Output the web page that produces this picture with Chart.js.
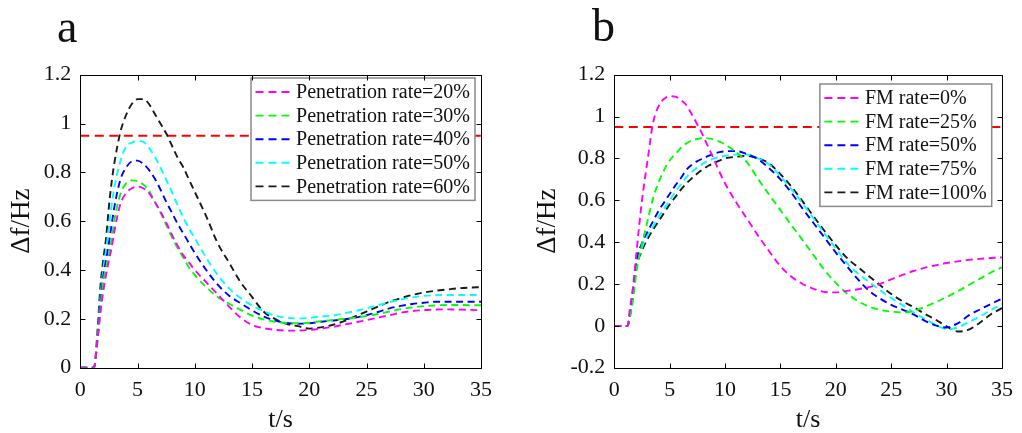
<!DOCTYPE html>
<html><head><meta charset="utf-8">
<script src="https://cdn.jsdelivr.net/npm/chart.js@4.4.0/dist/chart.umd.min.js"></script>
<style>
html,body{margin:0;padding:0;background:#fff;}
#wrap{position:relative;width:1022px;height:433px;overflow:hidden;background:#fff;}
.panel{position:absolute;top:0;width:511px;height:433px;}
.lbl{position:absolute;font-family:"Liberation Serif","Times New Roman",serif;font-size:46px;line-height:1;color:#111;}
</style></head><body>
<div id="wrap">
<div class="panel" style="left:0"><canvas id="cA" width="511" height="433"></canvas></div>
<div class="panel" style="left:511px"><canvas id="cB" width="511" height="433"></canvas></div>
<div class="lbl" style="left:57px;top:4px">a</div>
<div class="lbl" style="left:592px;top:3px">b</div>
</div>
<script>
// ---------- DATA ----------
const threshold = 0.95;
const tA = [0,1.2,1.5,1.75,2,2.25,2.5,2.75,3,3.5,4,4.5,5,5.5,6,6.5,7,7.5,8,8.5,9,9.5,10,
  11,12,13,14,15,16,17,18,19,20,21,22,23,24,25,26,27,28,29,30,31,32,33,34,35];
const namesA = ["Penetration rate=20%","Penetration rate=30%","Penetration rate=40%","Penetration rate=50%","Penetration rate=60%"];
const pen20 = [0,0,0.11,0.22,0.31,0.38,0.44,0.495,0.565,0.67,0.715,0.735,0.742,0.735,0.715,0.68,0.64,0.595,0.545,0.50,0.46,0.43,0.40,
  0.35,0.30,0.25,0.205,0.175,0.162,0.155,0.152,0.152,0.155,0.16,0.167,0.176,0.185,0.195,0.205,0.215,0.225,0.232,0.236,0.238,0.239,0.238,0.237,0.235];
const pen30 = [0,0,0.11,0.24,0.35,0.41,0.465,0.53,0.61,0.71,0.755,0.767,0.765,0.75,0.725,0.68,0.635,0.585,0.535,0.49,0.45,0.41,0.38,
  0.33,0.29,0.262,0.237,0.213,0.198,0.188,0.183,0.182,0.184,0.19,0.195,0.2,0.205,0.212,0.22,0.23,0.24,0.247,0.252,0.255,0.257,0.257,0.256,0.256];
const pen40 = [0,0,0.12,0.26,0.37,0.44,0.51,0.59,0.665,0.77,0.82,0.845,0.848,0.835,0.81,0.775,0.73,0.68,0.635,0.59,0.55,0.51,0.47,
  0.40,0.34,0.295,0.264,0.235,0.21,0.193,0.183,0.18,0.182,0.188,0.193,0.198,0.205,0.215,0.228,0.243,0.253,0.261,0.266,0.27,0.27,0.27,0.27,0.27];
const pen50 = [0,0,0.13,0.28,0.40,0.48,0.575,0.67,0.745,0.845,0.905,0.922,0.928,0.925,0.90,0.865,0.82,0.77,0.72,0.665,0.615,0.57,0.53,
  0.45,0.38,0.325,0.285,0.255,0.232,0.213,0.205,0.202,0.204,0.21,0.213,0.222,0.232,0.243,0.256,0.268,0.279,0.288,0.294,0.297,0.298,0.298,0.298,0.298];
const pen60 = [0,0,0.15,0.33,0.44,0.53,0.66,0.765,0.845,0.965,1.035,1.08,1.10,1.10,1.08,1.04,1.00,0.96,0.91,0.86,0.82,0.77,0.72,
  0.62,0.51,0.43,0.35,0.29,0.23,0.20,0.18,0.17,0.16,0.165,0.175,0.19,0.21,0.23,0.25,0.27,0.285,0.298,0.308,0.315,0.32,0.325,0.328,0.33];

const tB = [0,1.2,1.4,1.6,1.8,2,2.5,3,3.5,4,4.5,5,5.5,6,6.5,7,7.5,8,8.5,9,9.5,10,
  11,12,13,14,15,16,17,18,19,20,21,22,23,24,25,26,27,28,29,30,31,32,33,34,35];
const namesB = ["FM rate=0%","FM rate=25%","FM rate=50%","FM rate=75%","FM rate=100%"];
const fm0 = [0,0,0.08,0.15,0.24,0.35,0.60,0.79,0.97,1.05,1.085,1.097,1.095,1.08,1.055,1.01,0.962,0.91,0.853,0.795,0.735,0.68,
  0.59,0.51,0.43,0.355,0.285,0.235,0.2,0.177,0.162,0.16,0.167,0.175,0.185,0.2,0.222,0.243,0.262,0.277,0.289,0.3,0.308,0.315,0.32,0.324,0.327];
const fm25 = [0,0,0.04,0.09,0.17,0.26,0.39,0.50,0.61,0.685,0.745,0.79,0.82,0.85,0.872,0.885,0.893,0.897,0.896,0.89,0.88,0.867,
  0.83,0.78,0.70,0.625,0.553,0.48,0.41,0.337,0.265,0.205,0.155,0.118,0.092,0.076,0.068,0.064,0.07,0.09,0.113,0.138,0.165,0.195,0.225,0.255,0.28];
const fm50 = [0,0,0.05,0.13,0.22,0.31,0.395,0.45,0.50,0.55,0.59,0.63,0.67,0.705,0.745,0.77,0.787,0.80,0.812,0.822,0.83,0.834,
  0.835,0.82,0.796,0.752,0.70,0.635,0.56,0.49,0.42,0.35,0.285,0.222,0.168,0.13,0.1,0.078,0.055,0.025,0.002,-0.008,0.012,0.05,0.078,0.105,0.13];
const fm75 = [0,0,0.05,0.13,0.21,0.29,0.375,0.43,0.475,0.52,0.56,0.60,0.64,0.675,0.71,0.735,0.757,0.775,0.79,0.80,0.808,0.812,
  0.818,0.818,0.80,0.77,0.715,0.652,0.585,0.512,0.44,0.37,0.30,0.25,0.21,0.17,0.133,0.1,0.065,0.035,0.005,-0.015,-0.008,0.018,0.045,0.075,0.105];
const fm100 = [0,0,0.04,0.12,0.20,0.28,0.36,0.415,0.46,0.50,0.54,0.58,0.615,0.65,0.68,0.705,0.728,0.748,0.765,0.778,0.79,0.80,
  0.808,0.812,0.80,0.775,0.725,0.665,0.595,0.522,0.452,0.385,0.325,0.28,0.237,0.194,0.152,0.118,0.09,0.058,0.03,-0.002,-0.027,-0.018,0.015,0.055,0.085];

const seriesColors = ["#ff00ff","#00ff00","#0000ff","#00ffff","#1a1a1a"];
// ---------- END DATA ----------

const FONT = '"Liberation Serif", "Times New Roman", serif';

const framePlugin = {
  id: 'frame',
  afterDraw(chart) {
    const {ctx, chartArea: a, scales: {x, y}} = chart;
    const L = Math.round(a.left) + 0.5, R = Math.round(a.right) + 0.5;
    const T = Math.round(a.top) + 0.5, B = Math.round(a.bottom) + 0.5;
    ctx.save();
    ctx.strokeStyle = '#000'; ctx.lineWidth = 1;
    ctx.beginPath();
    ctx.rect(L, T, R - L, B - T);
    const tl = 5;
    y.ticks.forEach(t => {
      const py = Math.round(y.getPixelForValue(t.value)) + 0.5;
      ctx.moveTo(L, py); ctx.lineTo(L + tl, py);
      ctx.moveTo(R, py); ctx.lineTo(R - tl, py);
    });
    x.ticks.forEach(t => {
      const px = Math.round(x.getPixelForValue(t.value)) + 0.5;
      ctx.moveTo(px, B); ctx.lineTo(px, B - tl);
      ctx.moveTo(px, T); ctx.lineTo(px, T + tl);
    });
    ctx.stroke();
    ctx.restore();
  }
};

const boxLegend = {
  id: 'boxLegend',
  afterDatasetsDraw(chart, args, opts) {
    const {ctx, chartArea: a} = chart;
    const items = chart.data.datasets.filter(d => !d.hideInLegend);
    ctx.save();
    ctx.font = '20px ' + FONT;
    const tw = Math.max(...items.map(d => ctx.measureText(d.label).width));
    const padL = 4.5, sample = 37, gap = 3.5, padR = 5;
    const w = padL + sample + gap + tw + padR;
    const rowH = 23.6, padT = 14;
    const h = padT * 2 + rowH * (items.length - 1);
    const right = a.right - opts.marginRight;
    const left = right - w;
    const top = a.top + opts.marginTop;
    ctx.fillStyle = '#fff';
    ctx.fillRect(left, top, w, h);
    ctx.strokeStyle = '#8a8a8a'; ctx.lineWidth = 1.5;
    ctx.strokeRect(left, top, w, h);
    items.forEach((d, i) => {
      const cy = top + padT + i * rowH;
      ctx.strokeStyle = d.borderColor; ctx.lineWidth = 1.9;
      ctx.setLineDash([8, 5]);
      ctx.beginPath(); ctx.moveTo(left + padL, cy); ctx.lineTo(left + padL + sample, cy); ctx.stroke();
      ctx.setLineDash([]);
      ctx.fillStyle = '#111'; ctx.textBaseline = 'middle'; ctx.textAlign = 'left';
      ctx.fillText(d.label, left + padL + sample + gap, cy + 1);
    });
    ctx.restore();
  }
};

function makeChart(canvasId, t, seriesList, names, yMin, yWidth, yTitlePad, rightPad, legendOpts) {
  const datasets = seriesList.map((s, i) => ({
    label: names[i],
    data: t.map((tv, k) => ({x: tv, y: s[k]})),
    borderColor: seriesColors[i],
    borderWidth: 1.9,
    borderDash: [7, 4.5],
    pointRadius: 0,
    fill: false,
    cubicInterpolationMode: 'monotone'
  }));
  datasets.push({
    label: 'threshold', hideInLegend: true,
    data: [{x: 0, y: threshold}, {x: 35, y: threshold}],
    borderColor: '#ff0000', borderWidth: 1.9, borderDash: [9, 5.5], pointRadius: 0, fill: false
  });
  return new Chart(document.getElementById(canvasId), {
    type: 'line',
    data: {datasets},
    plugins: [boxLegend, framePlugin],
    options: {
      responsive: false, animation: false, devicePixelRatio: 1,
      layout: {padding: {top: 74.7, right: rightPad, left: 0, bottom: 0}},
      plugins: {legend: {display: false}, tooltip: {enabled: false}, boxLegend: legendOpts},
      scales: {
        x: {
          type: 'linear', min: 0, max: 35,
          ticks: {stepSize: 5, font: {family: FONT, size: 22}, color: '#111', padding: 9, maxRotation: 0},
          grid: {display: false, drawTicks: false}, border: {display: false},
          title: {display: true, text: 't/s', font: {family: FONT, size: 26, lineHeight: 1}, color: '#111', padding: {top: 0, bottom: 0}},
          afterFit(s) { s.height = 65.3; }
        },
        y: {
          type: 'linear', min: yMin, max: 1.2,
          ticks: {stepSize: 0.2, font: {family: FONT, size: 22}, color: '#111', padding: 9,
            callback: v => String(Number(v.toFixed(1)))},
          grid: {display: false, drawTicks: false}, border: {display: false},
          title: {display: true, text: 'Δf/Hz', font: {family: FONT, size: 27, lineHeight: 1}, color: '#111', padding: {top: yTitlePad, bottom: 0}},
          afterFit(s) { s.width = yWidth; }
        }
      }
    }
  });
}

makeChart('cA', tA, [pen20, pen30, pen40, pen50, pen60], namesA, 0, 80.3, 8.5, 30, {marginRight: 6, marginTop: 3.3});
makeChart('cB', tB, [fm0, fm25, fm50, fm75, fm100], namesB, -0.2, 103.3, 23, 14.7, {marginRight: 10.3, marginTop: 9.3});
</script>
</body></html>
